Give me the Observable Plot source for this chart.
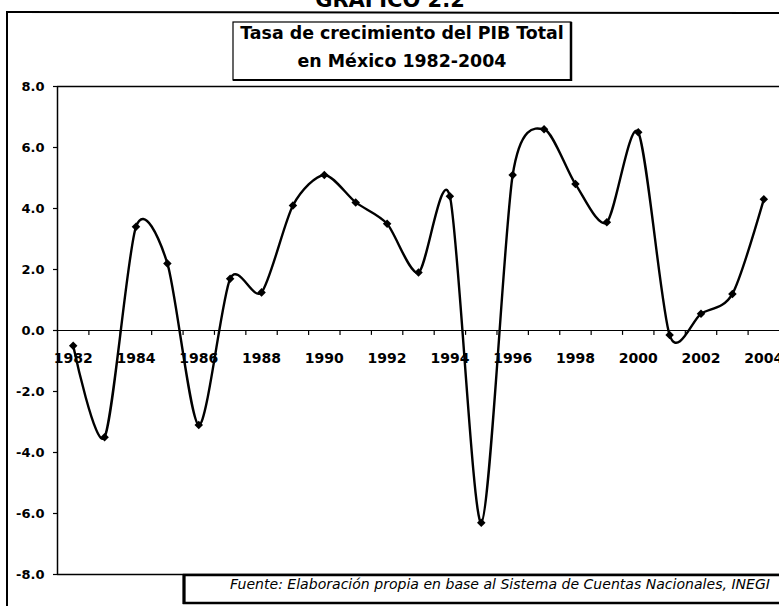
<!DOCTYPE html>
<html>
<head>
<meta charset="utf-8">
<script src="https://cdn.jsdelivr.net/npm/d3@7"></script>
<script src="https://cdn.jsdelivr.net/npm/@observablehq/plot@0.6"></script>
<style>
  body { margin: 0; background: #fff; }
  #wrap { position: relative; width: 779px; height: 606px; overflow: hidden; background: #fff; }
  #chart { position: absolute; left: 0; top: 0; }
  #deco { position: absolute; left: 0; top: 0; pointer-events: none; }
</style>
</head>
<body>
<div id="wrap">
  <div id="chart"></div>
  <svg id="deco" width="779" height="606" xmlns="http://www.w3.org/2000/svg"></svg>
</div>
<script>
// ---- data ----
const years  = [1982, 1983, 1984, 1985, 1986, 1987, 1988, 1989, 1990, 1991, 1992, 1993,
                1994, 1995, 1996, 1997, 1998, 1999, 2000, 2001, 2002, 2003, 2004];
const growth = [-0.5, -3.5, 3.4, 2.2, -3.1, 1.7, 1.25, 4.1, 5.1, 4.2, 3.5, 1.9,
                4.4, -6.3, 5.1, 6.6, 4.8, 3.55, 6.5, -0.15, 0.55, 1.2, 4.3];
const xLabels = [1982, 1984, 1986, 1988, 1990, 1992, 1994, 1996, 1998, 2000, 2002, 2004];
const yTicks  = [-8, -6, -4, -2, 0, 2, 4, 6, 8];
const titleTop = "GRAFICO 2.2";
const titleLines = ["Tasa de crecimiento del PIB Total", "en México 1982-2004"];
const caption = "Fuente: Elaboración propia en base al Sistema de Cuentas Nacionales, INEGI";

const data = years.map((y, i) => ({year: y, value: growth[i]}));
// category boundaries (tick marks sit between categories)
const boundaries = years.slice(0, -1).map(y => y + 0.5);
const xDomain = [years[0] - 0.5, years[years.length - 1] + 0.5];

const FONT = "'DejaVu Sans', 'Liberation Sans', Arial, sans-serif";

const chart = Plot.plot({
  width: 779,
  height: 606,
  marginLeft: 57,
  marginRight: 0,
  marginTop: 86,
  marginBottom: 32,
  style: {fontFamily: FONT, background: "#fff", color: "#000", overflow: "visible"},
  x: {domain: xDomain, axis: null, label: null},
  y: {domain: [-8, 8], axis: null, label: null},
  marks: [
    Plot.axisY({ticks: yTicks, tickFormat: d => d.toFixed(1), tickSize: 4, tickPadding: 9, label: null,
                fontSize: 13, fontWeight: "bold", stroke: "#000", strokeWidth: 1.2}),
    Plot.ruleY([8], {stroke: "#000", strokeWidth: 1.5}),
    Plot.ruleY([-8], {stroke: "#000", strokeWidth: 1.5}),
    Plot.ruleY([0], {stroke: "#000", strokeWidth: 1.2}),
    Plot.ruleX([xDomain[0]], {stroke: "#000", strokeWidth: 1.5}),
    Plot.ruleX(boundaries, {x: d => d, y1: () => 0, y2: () => -0.16, stroke: "#000", strokeWidth: 1.2}),
    Plot.text(xLabels, {x: d => d, y: () => 0, dy: 28, text: d => String(d),
                        fontSize: 14, fontWeight: "bold", fill: "#000"}),
    Plot.line(data, {x: "year", y: "value", curve: "cardinal", tension: 0.2, stroke: "#000", strokeWidth: 2.4}),
    Plot.dot(data, {x: "year", y: "value", symbol: "square", rotate: 45, fill: "#000", r: 3.4})
  ]
});
document.getElementById("chart").appendChild(chart);

// ---- decorations: frames, title box, caption box ----
const deco = d3.select("#deco");
deco.append("line").attr("x1", 7).attr("y1", 11).attr("x2", 7).attr("y2", 606)
    .attr("stroke", "#000").attr("stroke-width", 2);
deco.append("line").attr("x1", 7).attr("y1", 12).attr("x2", 779).attr("y2", 13)
    .attr("stroke", "#000").attr("stroke-width", 2);
deco.append("text").attr("x", 390).attr("y", 7).attr("text-anchor", "middle")
    .attr("font-family", FONT).attr("font-weight", "bold").attr("font-size", 21)
    .text(titleTop);

deco.append("rect").attr("x", 233).attr("y", 22).attr("width", 338).attr("height", 58)
    .attr("fill", "#fff").attr("stroke", "#000").attr("stroke-width", 1.2);
deco.append("line").attr("x1", 571).attr("y1", 22).attr("x2", 571).attr("y2", 81)
    .attr("stroke", "#000").attr("stroke-width", 2.5);
deco.append("line").attr("x1", 233).attr("y1", 80).attr("x2", 572).attr("y2", 80)
    .attr("stroke", "#000").attr("stroke-width", 2);
titleLines.forEach((t, i) => {
  deco.append("text").attr("x", 402).attr("y", 39 + i * 28).attr("text-anchor", "middle")
      .attr("font-family", FONT).attr("font-weight", "bold").attr("font-size", 17.4)
      .text(t);
});

deco.append("rect").attr("x", 184).attr("y", 575).attr("width", 620).attr("height", 28)
    .attr("fill", "#fff").attr("stroke", "#000").attr("stroke-width", 2.5);
deco.append("line").attr("x1", 184).attr("y1", 574).attr("x2", 184).attr("y2", 604)
    .attr("stroke", "#000").attr("stroke-width", 3);
deco.append("text").attr("x", 230).attr("y", 589)
    .attr("textLength", 540).attr("lengthAdjust", "spacingAndGlyphs")
    .attr("font-family", FONT).attr("font-style", "italic").attr("font-size", 13.5)
    .text(caption);
</script>
</body>
</html>
